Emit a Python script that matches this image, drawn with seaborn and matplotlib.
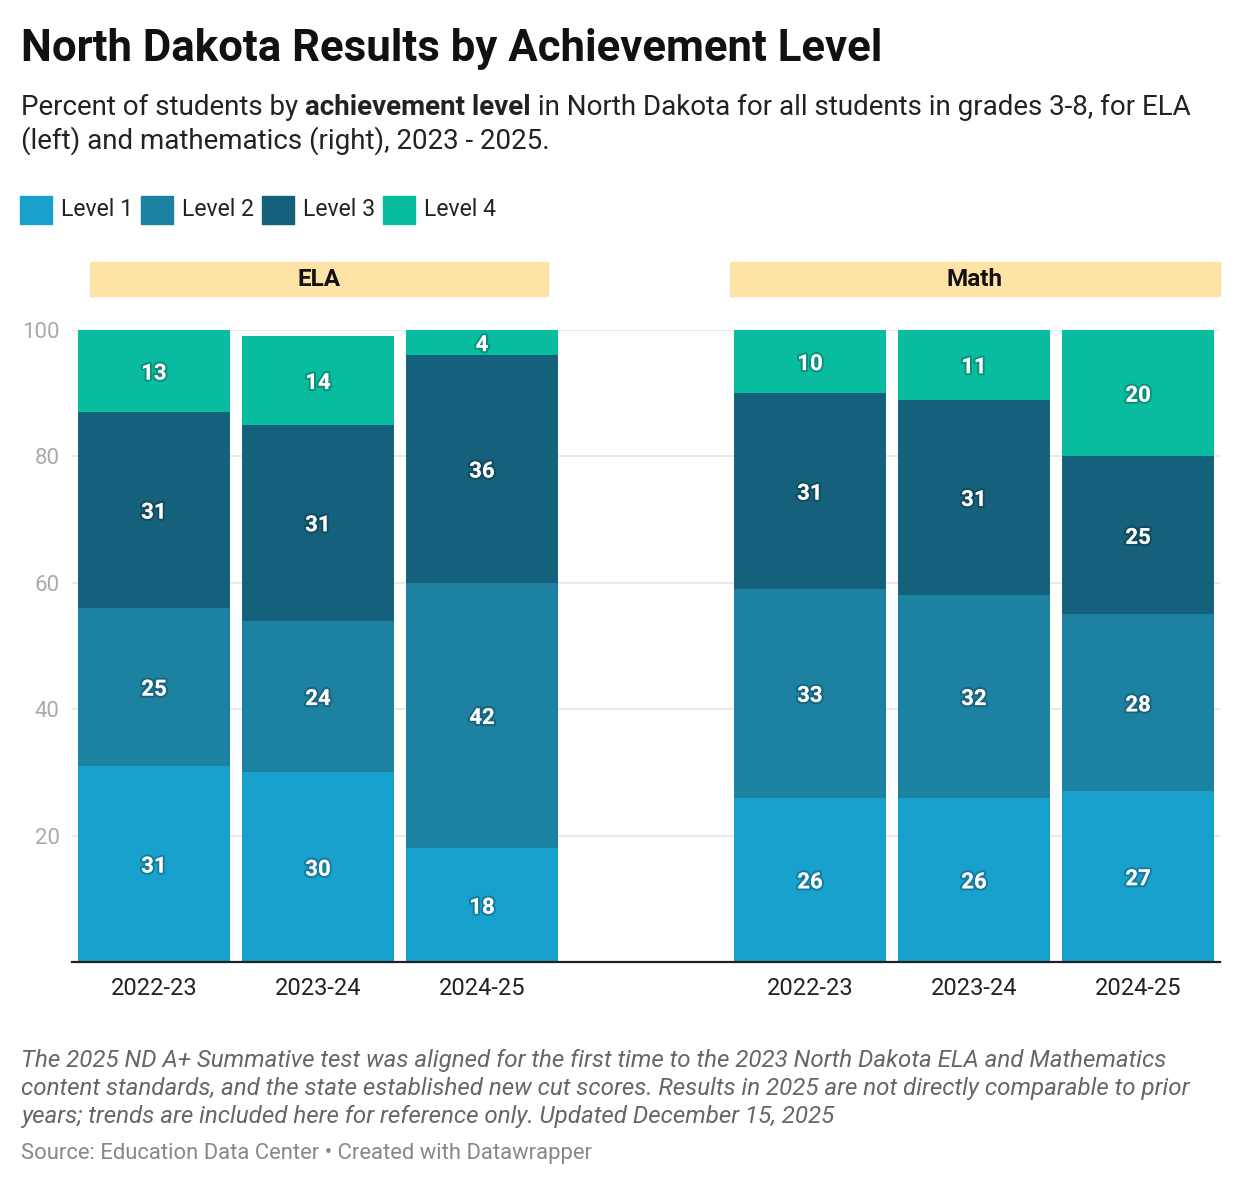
import seaborn as sns
import matplotlib.pyplot as plt
import matplotlib.patheffects as pe
import pandas as pd
from matplotlib.patches import Rectangle

# data
subjects = ['ELA', 'Math']
years = ['2022-23', '2023-24', '2024-25']
levels = ['Level 1', 'Level 2', 'Level 3', 'Level 4']
# values per bar: ELA 2022-23, 2023-24, 2024-25, Math 2022-23, 2023-24, 2024-25
level_1 = [31, 30, 18, 26, 26, 27]
level_2 = [25, 24, 42, 33, 32, 28]
level_3 = [31, 31, 36, 31, 31, 25]
level_4 = [13, 14, 4, 10, 11, 20]
colors = ['#18a1cd', '#1d81a2', '#15607a', '#09bb9f']

W, H = 1240, 1186


def fxy(x, y):
    # pixel -> figure coords
    return x / W, 1 - y / H


rows = []
values = [level_1, level_2, level_3, level_4]
for i in range(6):
    g, k = divmod(i, 3)
    bottom = 0
    for lvl, vals in zip(levels, values):
        v = vals[i]
        rows.append(dict(subject=subjects[g], year=years[k], pos=g * 4 + k,
                         level=lvl, value=v, bottom=bottom, top=bottom + v))
        bottom += v
df = pd.DataFrame(rows)

sns.set_theme(style='white')
plt.rcParams['font.family'] = ['Roboto', 'DejaVu Sans']

fig = plt.figure(figsize=(W / 100, H / 100), dpi=100)
x0, y0 = fxy(72, 962)
x1, y1 = fxy(1220, 330)
ax = fig.add_axes([x0, y0, x1 - x0, y1 - y0])

# stacked bars: draw cumulative tops, tallest first
for lvl, col in reversed(list(zip(levels, colors))):
    sub = df[df['level'] == lvl]
    sns.barplot(data=sub, x='pos', y='top', color=col, native_scale=True,
                width=0.925, linewidth=0, errorbar=None, saturation=1, ax=ax)

shadow = [pe.withStroke(linewidth=3, foreground=(0, 0, 0, 0.22))]
for _, r in df.iterrows():
    ax.text(r['pos'], r['bottom'] + r['value'] / 2, str(r['value']),
            ha='center', va='center_baseline', color='white', fontsize=16,
            fontweight='bold', path_effects=shadow, zorder=5)

ax.set_xlim(-0.5, 6.5)
ax.set_ylim(0, 100)
ax.set_yticks([20, 40, 60, 80, 100])
ax.set_xticks([0, 1, 2, 4, 5, 6])
ax.set_xticklabels(years * 2)
ax.set_xlabel('')
ax.set_ylabel('')
ax.tick_params(axis='y', length=0, pad=9, labelsize=16, labelcolor='#aaaaaa')
ax.tick_params(axis='x', length=0, pad=10.5, labelsize=17, labelcolor='#222222')
ax.grid(axis='y', color='#e5e5e5', linewidth=1.2)
ax.set_axisbelow(True)
for s in ['top', 'right', 'left']:
    ax.spines[s].set_visible(False)
ax.spines['bottom'].set_color('#222222')
ax.spines['bottom'].set_linewidth(1.6)

# facet headers
for name, xa, xb in [('ELA', 90, 548), ('Math', 730, 1220)]:
    bx, by = fxy(xa, 296)
    fig.patches.append(Rectangle((bx, by), (xb - xa) / W, 34 / H,
                                 transform=fig.transFigure,
                                 color='#fee3a7', zorder=0))
    fig.text(*fxy((xa + xb) / 2, 280), name, ha='center', va='center',
             fontsize=17.5, fontweight='bold', color='#111111')

# title
fig.text(*fxy(21, 61), 'North Dakota Results by Achievement Level',
         fontsize=31.5, fontweight='bold', color='#111111', va='baseline')

# subtitle with bold part
fig.canvas.draw()
renderer = fig.canvas.get_renderer()
x = 21
for part, wt in [('Percent of students by ', 'normal'),
                 ('achievement level', 'bold'),
                 (' in North Dakota for all students in grades 3-8, for ELA', 'normal')]:
    t = fig.text(*fxy(x, 115), part, fontsize=20, fontweight=wt,
                 color='#222222', va='baseline')
    x += t.get_window_extent(renderer).width
fig.text(*fxy(21, 149), '(left) and mathematics (right), 2023 - 2025.',
         fontsize=20, color='#222222', va='baseline')

# legend
x = 20
for lvl, col in zip(levels, colors):
    bx, by = fxy(x, 224)
    fig.patches.append(Rectangle((bx, by), 32 / W, 28 / H,
                                 transform=fig.transFigure, color=col))
    t = fig.text(*fxy(x + 41, 210), lvl, fontsize=16.6, color='#222222',
                 va='center')
    x += 41 + t.get_window_extent(renderer).width + 8

# notes
notes = ['The 2025 ND A+ Summative test was aligned for the first time to the 2023 North Dakota ELA and Mathematics',
         'content standards, and the state established new cut scores. Results in 2025 are not directly comparable to prior',
         'years; trends are included here for reference only. Updated December 15, 2025']
for i, line in enumerate(notes):
    fig.text(*fxy(21, 1067 + i * 28), line, fontsize=17.4, style='italic',
             color='#666666', va='baseline')
fig.text(*fxy(21, 1159), 'Source: Education Data Center \u2022 Created with Datawrapper',
         fontsize=15.8, color='#888888', va='baseline')

fig.savefig('out.png', dpi=100, facecolor='white')
